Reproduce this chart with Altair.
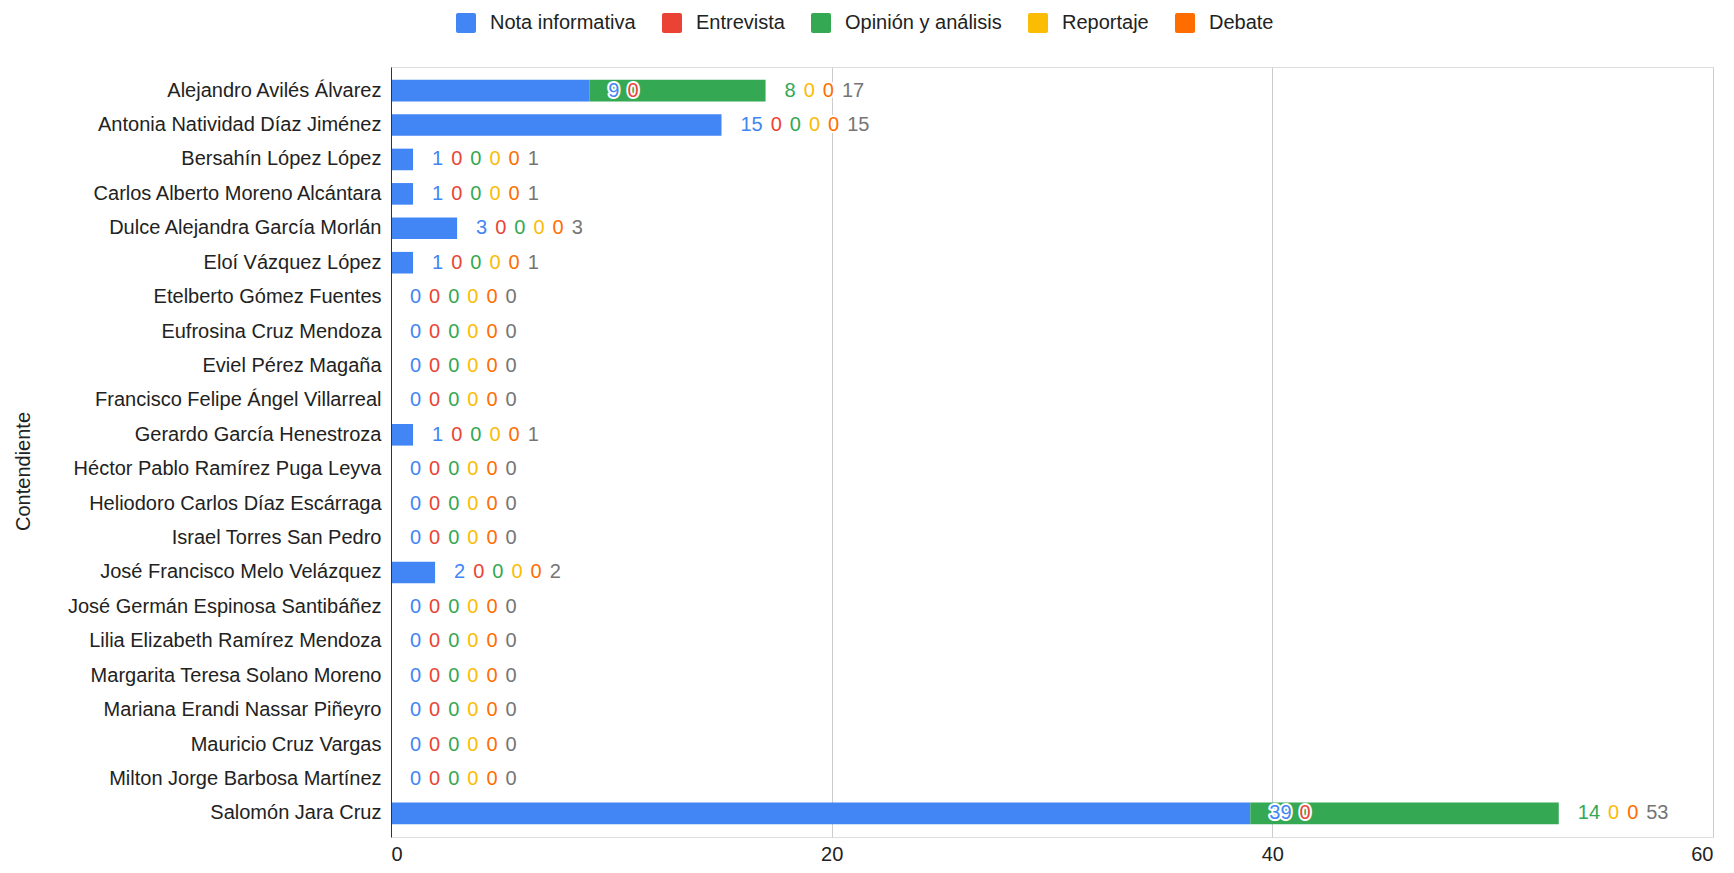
import altair as alt
import pandas as pd

names = [
    "Alejandro Avilés Álvarez",
    "Antonia Natividad Díaz Jiménez",
    "Bersahín López López",
    "Carlos Alberto Moreno Alcántara",
    "Dulce Alejandra García Morlán",
    "Eloí Vázquez López",
    "Etelberto Gómez Fuentes",
    "Eufrosina Cruz Mendoza",
    "Eviel Pérez Magaña",
    "Francisco Felipe Ángel Villarreal",
    "Gerardo García Henestroza",
    "Héctor Pablo Ramírez Puga Leyva",
    "Heliodoro Carlos Díaz Escárraga",
    "Israel Torres San Pedro",
    "José Francisco Melo Velázquez",
    "José Germán Espinosa Santibáñez",
    "Lilia Elizabeth Ramírez Mendoza",
    "Margarita Teresa Solano Moreno",
    "Mariana Erandi Nassar Piñeyro",
    "Mauricio Cruz Vargas",
    "Milton Jorge Barbosa Martínez",
    "Salomón Jara Cruz",
]

series = ["Nota informativa", "Entrevista", "Opinión y análisis", "Reportaje", "Debate"]
colors = ["#4285F4", "#EA4335", "#34A853", "#FBBC04", "#FF6D01"]
total_color = "#757575"

nota = [9, 15, 1, 1, 3, 1, 0, 0, 0, 0, 1, 0, 0, 0, 2, 0, 0, 0, 0, 0, 0, 39]
entrevista = [0] * 22
opinion = [8, 0, 0, 0, 0, 0, 0, 0, 0, 0, 0, 0, 0, 0, 0, 0, 0, 0, 0, 0, 0, 14]
reportaje = [0] * 22
debate = [0] * 22
values = [nota, entrevista, opinion, reportaje, debate]

x_ticks = [0, 20, 40, 60]
FONT = "Liberation Sans"
FS = 20
PLOT_W = 1322
PLOT_H = 770
XMAX = 60
ppu = PLOT_W / XMAX
char_w = 0.556 * FS
GAP_END = 19
GAP_LBL = 8

bar_rows = []
lbl_rows = []
for i, n in enumerate(names):
    cum = 0
    cursor = 0.0
    for s_idx, s in enumerate(series):
        v = values[s_idx][i]
        bar_rows.append({"name": n, "series": s, "value": v, "ord": s_idx})
        cum += v
        start = max(cum * ppu + GAP_END, cursor)
        txt = str(v)
        cursor = start + len(txt) * char_w + GAP_LBL
        lbl_rows.append({"name": n, "pos": start / ppu, "txt": txt, "col": colors[s_idx]})
    tot = str(cum)
    start = max(cum * ppu + GAP_END, cursor)
    lbl_rows.append({"name": n, "pos": start / ppu, "txt": tot, "col": total_color})

bars_df = pd.DataFrame(bar_rows)
lbl_df = pd.DataFrame(lbl_rows)

rounded_sq = ("M-0.8,-1 L0.8,-1 Q1,-1 1,-0.8 L1,0.8 Q1,1 0.8,1 L-0.8,1 "
              "Q-1,1 -1,0.8 L-1,-0.8 Q-1,-1 -0.8,-1 Z")

xscale = alt.Scale(domain=[0, XMAX], nice=False, zero=True)
yscale = alt.Scale(paddingInner=0.372, paddingOuter=0.372)

ysort = names

bars = alt.Chart(bars_df).mark_bar().encode(
    y=alt.Y("name:N", sort=ysort, scale=yscale,
            axis=alt.Axis(title="Contendiente", labelFontSize=FS, labelFont=FONT,
                          labelColor="#222222", ticks=False, domainColor="#333333",
                          labelPadding=10, labelLimit=400, zindex=1,
                          titleFontSize=FS, titleFont=FONT, titleFontWeight="normal",
                          titleColor="#222222", titleX=-368, titleY=404,
                          titleBaseline="middle", titleAngle=270)),
    x=alt.X("value:Q", stack="zero", scale=xscale,
            axis=alt.Axis(title=None, values=x_ticks, grid=True, gridColor="#cccccc",
                          domain=False, ticks=False, labelFontSize=FS, labelFont=FONT,
                          labelColor="#222222", labelPadding=7)),
    color=alt.Color("series:N", sort=series,
                    scale=alt.Scale(domain=series, range=colors),
                    legend=alt.Legend(title=None, orient="none", legendX=65, legendY=-54,
                                      direction="horizontal", columns=5,
                                      symbolType=rounded_sq, symbolSize=400,
                                      symbolStrokeWidth=0, labelFontSize=FS,
                                      labelFont=FONT, labelColor="#222222",
                                      labelOffset=14, columnPadding=26, labelLimit=400)),
    order=alt.Order("ord:Q", sort="ascending"),
)

halo = alt.Chart(lbl_df).mark_text(
    align="left", baseline="middle", font=FONT, fontSize=FS,
    stroke="white", strokeWidth=4, strokeJoin="round", fill="white"
).encode(
    y=alt.Y("name:N", sort=ysort, scale=yscale),
    x=alt.X("pos:Q", scale=xscale),
    text="txt:N",
)

labels = alt.Chart(lbl_df).mark_text(
    align="left", baseline="middle", font=FONT, fontSize=FS
).encode(
    y=alt.Y("name:N", sort=ysort, scale=yscale),
    x=alt.X("pos:Q", scale=xscale),
    text="txt:N",
    color=alt.Color("col:N", scale=None),
)

chart = alt.layer(bars, halo, labels).properties(
    width=PLOT_W, height=PLOT_H,
    padding={"left": 383, "top": 59, "right": 13, "bottom": 28},
    autosize=alt.AutoSizeParams(type="none"),
).configure_view(stroke=None).configure(background="white")

chart.save("out.html", embed_options={"renderer": "svg", "actions": False})
